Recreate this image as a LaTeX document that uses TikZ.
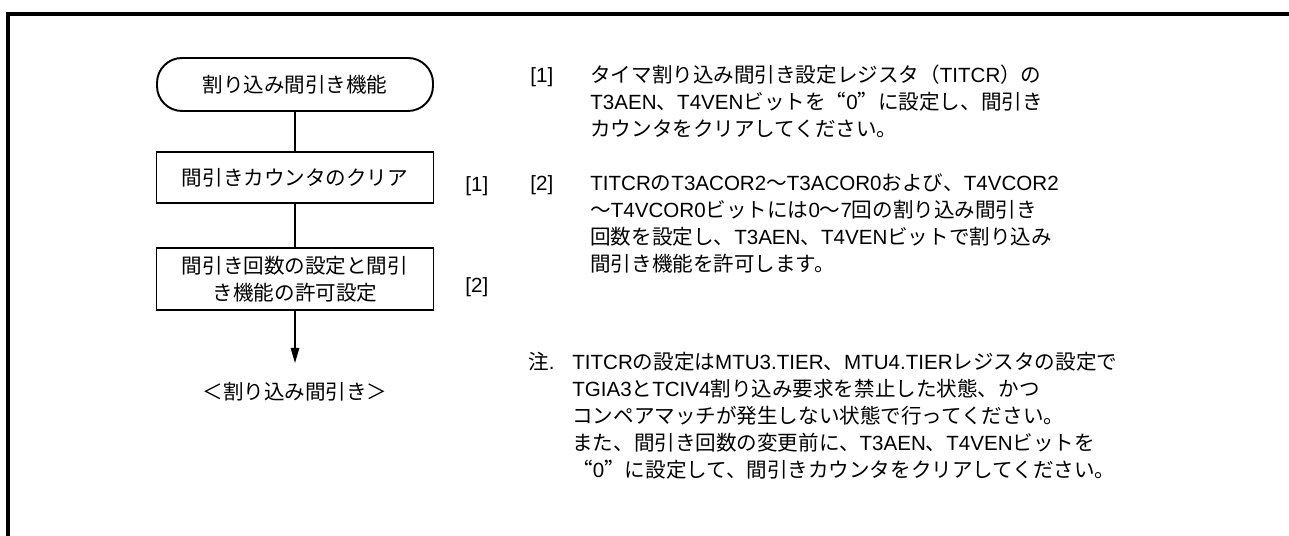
\documentclass[tikz,border=0pt]{standalone}
\usepackage{fontspec}
\setmainfont{Noto Sans CJK JP}
\newfontfamily\jpfont{Noto Sans CJK JP}[CharacterWidth=Full]
\newfontfamily\latfont{Liberation Sans}
\usepackage{tikz}
\usetikzlibrary{arrows.meta,positioning}

% Latin runs in Liberation Sans, Japanese runs in Noto Sans CJK JP
\XeTeXinterchartokenstate=1
\newXeTeXintercharclass\latclass
\newXeTeXintercharclass\jpclass
\newcount\cpos
\def\setcls#1#2#3{\cpos=#1 \loop \XeTeXcharclass\cpos=#3 \advance\cpos by 1 \ifnum\cpos<#2 \repeat}
\setcls{33}{127}{\latclass}
\setcls{"3000}{"3100}{\jpclass}
\setcls{"4E00}{"A000}{\jpclass}
\setcls{"FF00}{"FFF0}{\jpclass}
\XeTeXcharclass"201C=\jpclass
\XeTeXcharclass"201D=\jpclass
\XeTeXinterchartoks 4095 \latclass={\latfont}
\XeTeXinterchartoks 0 \latclass={\latfont}
\XeTeXinterchartoks \jpclass \latclass={\latfont}
\XeTeXinterchartoks 4095 \jpclass={\jpfont}
\XeTeXinterchartoks 0 \jpclass={\jpfont}
\XeTeXinterchartoks \latclass \jpclass={\jpfont}

\tikzset{
  term/.style={draw, line width=1.1pt, rounded corners=0.5cm, minimum width=5.52cm, minimum height=1.06cm},
  procbox/.style={draw, line width=1.1pt, minimum width=5.54cm, align=center},
  flow/.style={line width=0.6pt},
  tag/.style={anchor=base west, inner sep=0pt},
  note/.style={anchor=base west, align=left, inner sep=0pt},
}

\begin{document}
\begin{tikzpicture}[font=\fontsize{11.7}{15.4}\selectfont]
\useasboundingbox (0,0) rectangle (25.78,10.72);
\draw[line width=2pt] (0.16,0) -- (0.16,10.44) -- (25.78,10.44);
% flow
\node[term] (start) at (5.9,9.03) {割り込み間引き機能};
\node[procbox, minimum height=1.02cm] (clr) at (5.9,7.17) {間引きカウンタのクリア};
\node[procbox, minimum height=1.24cm] (cfg) at (5.9,5.14) {間引き回数の設定と間引\\き機能の許可設定};
\coordinate (stop) at (5.9,3.46);
\node (ret) at (5.9,2.88) {＜割り込み間引き＞};
\draw[flow] (start) -- (clr);
\draw[flow] (clr) -- (cfg);
\draw[flow,-{Triangle[length=0.3cm,width=0.17cm]}] (cfg) -- (stop);
\node[tag] (tag1) at (9.3,6.88) {[1]};
\node[tag] (tag2) at (9.3,4.86) {[2]};
% notes (base = last line)
\node[tag] (lbl1) at (10.6,9.06) {[1]};
\node[note] (txt1) at (11.8,7.98) {タイマ割り込み間引き設定レジスタ（TITCR）の\\
T3AEN、T4VENビットを“0”に設定し、間引き\\
カウンタをクリアしてください。};
\node[tag] (lbl2) at (10.6,6.90) {[2]};
\node[note] (txt2) at (11.8,5.28) {TITCRのT3ACOR2～T3ACOR0および、T4VCOR2\\
～T4VCOR0ビットには0～7回の割り込み間引き\\
回数を設定し、T3AEN、T4VENビットで割り込み\\
間引き機能を許可します。};
\node[tag] (lbl3) at (10.56,3.32) {注.};
\node[note] (txt3) at (11.44,1.16) {TITCRの設定はMTU3.TIER、MTU4.TIERレジスタの設定で\\
TGIA3とTCIV4割り込み要求を禁止した状態、かつ\\
コンペアマッチが発生しない状態で行ってください。\\
また、間引き回数の変更前に、T3AEN、T4VENビットを\\
“0”に設定して、間引きカウンタをクリアしてください。};
\end{tikzpicture}
\end{document}
